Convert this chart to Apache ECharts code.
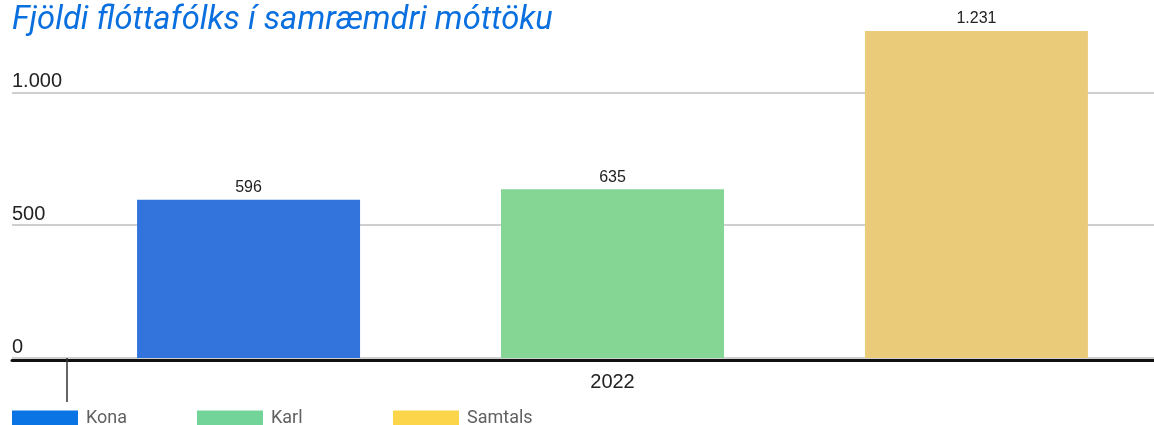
<!DOCTYPE html>
<html>
<head>
<meta charset="utf-8">
<script src="https://cdn.jsdelivr.net/npm/echarts@6/dist/echarts.min.js"></script>
<style>html,body{margin:0;padding:0;background:#fff;}#c{width:1154px;height:425px;}</style>
</head>
<body>
<div id="c"></div>
<script>
const titleText = 'Fjöldi flóttafólks í samræmdri móttöku';
const categories = ['2022'];
const seriesNames = ['Kona', 'Karl', 'Samtals'];
const konaValues = [596];
const karlValues = [635];
const samtalsValues = [1231];
const yTicks = [0, 500, 1000];

const barColors = ['#3273dc', '#85d595', '#eacb79'];
const legendColors = ['#0b74e5', '#72d498', '#fdd54b'];
const legendLefts = [12, 197, 393];

function fmt(v) {
  return String(v).replace(/\B(?=(\d{3})+(?!\d))/g, '.');
}

const numFont = '"Liberation Sans", Arial, sans-serif';
const chart = echarts.init(document.getElementById('c'), null, {renderer: 'canvas'});

const seriesData = [konaValues, karlValues, samtalsValues];

const option = {
  animation: false,
  backgroundColor: '#fff',
  title: {
    text: titleText,
    left: 7,
    top: -1,
    textStyle: {
      fontFamily: 'Roboto, sans-serif',
      fontStyle: 'italic',
      fontWeight: 'normal',
      fontSize: 32.7,
      color: '#0a6fdf'
    }
  },
  legend: seriesNames.map((n, i) => ({
    left: legendLefts[i],
    top: 409,
    padding: 0,
    itemWidth: 66,
    itemHeight: 15,
    icon: 'rect',
    selectedMode: false,
    data: [{name: n, itemStyle: {color: legendColors[i]}}],
    textStyle: {
      fontFamily: 'Roboto, sans-serif',
      fontSize: 18,
      color: '#616161',
      padding: [0, 0, 0, 3]
    }
  })),
  grid: [
    {left: 67, width: 1091, top: 26, bottom: 67, containLabel: false, outerBoundsMode: 'none'},
    {left: 12, right: 0, top: 26, bottom: 67, containLabel: false, outerBoundsMode: 'none'}
  ],
  xAxis: [
    {
      type: 'category',
      gridIndex: 0,
      data: categories,
      boundaryGap: true,
      axisLine: {show: false, onZero: false},
      axisTick: {show: true, length: 44, lineStyle: {color: '#333', width: 1.5}},
      axisLabel: {
        margin: 14,
        fontFamily: numFont,
        fontSize: 20,
        color: '#222'
      },
      splitLine: {show: false}
    },
    {
      type: 'value',
      gridIndex: 1,
      min: 0,
      max: 1,
      offset: 2,
      axisLine: {show: true, onZero: false, lineStyle: {color: '#111', width: 3}},
      axisTick: {show: false},
      axisLabel: {show: false},
      splitLine: {show: false}
    }
  ],
  yAxis: [
    {
      type: 'value',
      gridIndex: 0,
      min: 0,
      max: 1250,
      interval: 500,
      axisLine: {show: false},
      axisTick: {show: false},
      axisLabel: {show: false},
      splitLine: {show: false}
    },
    {
      type: 'value',
      gridIndex: 1,
      min: 0,
      max: 1250,
      interval: 500,
      axisLine: {show: false},
      axisTick: {show: false},
      axisLabel: {
        inside: true,
        margin: 0,
        align: 'left',
        verticalAlign: 'bottom',
        showMaxLabel: false,
        padding: [0, 0, 1, 0],
        fontFamily: numFont,
        fontSize: 20,
        color: '#222',
        formatter: v => yTicks.indexOf(v) >= 0 ? fmt(v) : ''
      },
      splitLine: {show: true, showMaxLine: false, lineStyle: {color: '#cfcfcf', width: 2}}
    }
  ],
  series: seriesNames.map((n, i) => ({
    name: n,
    type: 'bar',
    xAxisIndex: 0,
    yAxisIndex: 0,
    data: seriesData[i],
    barWidth: 223,
    barGap: '63.2%',
    itemStyle: {color: barColors[i]},
    label: {
      show: true,
      position: 'top',
      distance: 4,
      fontFamily: numFont,
      fontSize: 16,
      color: '#222',
      formatter: p => fmt(p.value)
    }
  }))
};
chart.setOption(option);
</script>
</body>
</html>
